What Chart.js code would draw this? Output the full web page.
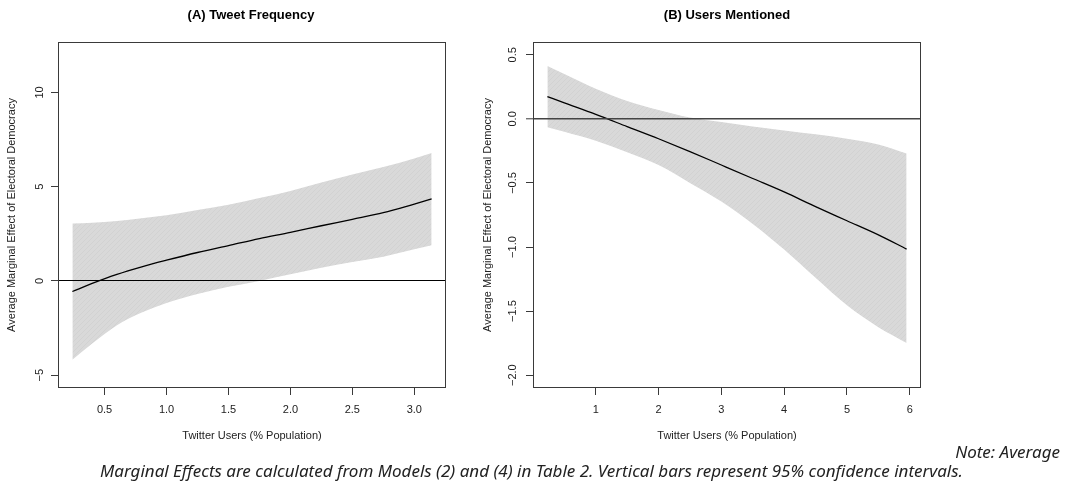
<!DOCTYPE html>
<html>
<head>
<meta charset="utf-8">
<script src="https://cdn.jsdelivr.net/npm/chart.js@4.4.1/dist/chart.umd.min.js"></script>
<style>
body { margin: 0; width: 1068px; height: 488px; background: #fff; position: relative; overflow: hidden; }
canvas { position: absolute; top: 0; }
#left { left: 0; }
#right { left: 470px; }
.note { position: absolute; font-family: 'Noto Sans', sans-serif; font-style: italic; font-size: 17px; line-height: 20px; color: #222; white-space: nowrap; }
#note1 { right: 8px; top: 442px; }
#note2 { left: 0; width: 1063px; text-align: center; top: 461px; }
</style>
</head>
<body>
<canvas id="left" width="502" height="445"></canvas>
<canvas id="right" width="514" height="445"></canvas>
<div class="note" id="note1">Note: Average</div>
<div class="note" id="note2">Marginal Effects are calculated from Models (2) and (4) in Table 2. Vertical bars represent 95% confidence intervals.</div>
<script>
// (A) Tweet Frequency
const tweetX     = [0.24, 0.4, 0.6, 0.8, 1.0, 1.25, 1.5, 1.75, 2.0, 2.25, 2.5, 2.75, 3.0, 3.14];
const tweetFit   = [-0.56, -0.13, 0.35, 0.75, 1.1, 1.51, 1.88, 2.25, 2.58, 2.93, 3.27, 3.62, 4.08, 4.35];
const tweetUpper = [3.05, 3.09, 3.18, 3.33, 3.49, 3.76, 4.04, 4.4, 4.78, 5.23, 5.65, 6.05, 6.5, 6.79];
const tweetLower = [-4.18, -3.32, -2.35, -1.68, -1.17, -0.69, -0.31, 0.0, 0.35, 0.7, 1.0, 1.29, 1.68, 1.9];
const tweetXTicks  = [0.5, 1.0, 1.5, 2.0, 2.5, 3.0];
const tweetXLabels = ['0.5', '1.0', '1.5', '2.0', '2.5', '3.0'];
const tweetYTicks  = [-5, 0, 5, 10];
const tweetYLabels = ['\u22125', '0', '5', '10'];

// (B) Users Mentioned
const mentionX     = [0.23, 0.5, 1.0, 1.5, 2.0, 2.5, 3.0, 3.5, 4.0, 4.5, 5.0, 5.5, 5.95];
const mentionFit   = [0.174, 0.125, 0.035, -0.06, -0.155, -0.255, -0.36, -0.465, -0.57, -0.685, -0.795, -0.905, -1.016];
const mentionUpper = [0.413, 0.35, 0.235, 0.14, 0.07, 0.01, -0.025, -0.06, -0.09, -0.12, -0.155, -0.2, -0.27];
const mentionLower = [-0.065, -0.1, -0.17, -0.26, -0.36, -0.5, -0.645, -0.82, -1.02, -1.24, -1.455, -1.625, -1.748];
const mentionXTicks  = [1, 2, 3, 4, 5, 6];
const mentionXLabels = ['1', '2', '3', '4', '5', '6'];
const mentionYTicks  = [-2.0, -1.5, -1.0, -0.5, 0.0, 0.5];
const mentionYLabels = ['\u22122.0', '\u22121.5', '\u22121.0', '\u22120.5', '0.0', '0.5'];

Chart.defaults.font.family = "'Liberation Sans', Arial, sans-serif";
Chart.defaults.color = '#222';

function pts(xs, ys) {
    return xs.map((x, i) => ({ x: x, y: ys[i] }));
}

function bandPattern() {
    let c = document.createElement('canvas');
    c.width = 5;
    c.height = 5;
    let g = c.getContext('2d');
    g.fillStyle = '#d9d9d9';
    g.fillRect(0, 0, 5, 5);
    g.strokeStyle = '#d2d2d2';
    g.lineWidth = 1;
    g.beginPath();
    g.moveTo(-1, 6);
    g.lineTo(6, -1);
    g.stroke();
    return g.createPattern(c, 'repeat');
}

// box round the plot area (R's bty = "o")
const frame = {
    id: 'frame',
    afterDraw(chart) {
        const a = chart.chartArea;
        const ctx = chart.ctx;
        ctx.save();
        ctx.strokeStyle = '#3a3a3a';
        ctx.lineWidth = 1;
        ctx.strokeRect(Math.round(a.left) + 0.5, Math.round(a.top) + 0.5,
            Math.round(a.right - a.left) - 1, Math.round(a.bottom - a.top) - 1);
        ctx.restore();
    }
};

function panel(id, p) {
    const ctx = document.getElementById(id).getContext('2d');
    return new Chart(ctx, {
        type: 'line',
        data: {
            datasets: [{
                data: pts(p.x, p.fit),
                borderColor: '#000',
                borderWidth: 1.3,
                pointRadius: 0,
                fill: false,
                cubicInterpolationMode: 'monotone'
            }, {
                data: pts(p.x, p.upper),
                borderWidth: 0,
                pointRadius: 0,
                fill: '+1',
                backgroundColor: bandPattern(),
                cubicInterpolationMode: 'monotone'
            }, {
                data: pts(p.x, p.lower),
                borderWidth: 0,
                pointRadius: 0,
                fill: false,
                cubicInterpolationMode: 'monotone'
            }]
        },
        options: {
            responsive: false,
            animation: false,
            layout: { padding: 0 },
            plugins: {
                legend: { display: false },
                tooltip: { enabled: false },
                title: {
                    display: true,
                    text: p.title,
                    color: '#000',
                    font: { size: 13, weight: 'bold' },
                    padding: { top: 7.5, bottom: 18.9 }
                }
            },
            scales: {
                x: {
                    type: 'linear',
                    position: 'bottom',
                    min: p.xMin,
                    max: p.xMax,
                    afterBuildTicks: s => { s.ticks = p.xTicks.map(v => ({ value: v })); },
                    afterFit: s => { s.height = 57; },
                    ticks: {
                        callback: v => p.xLabels[p.xTicks.indexOf(v)],
                        font: { size: 11 },
                        padding: 8,
                        maxRotation: 0,
                        autoSkip: false
                    },
                    grid: { drawOnChartArea: false, tickLength: 7, color: '#3a3a3a' },
                    border: { display: false },
                    title: {
                        display: true,
                        text: 'Twitter Users (% Population)',
                        font: { size: 11 },
                        padding: { top: 0, bottom: 2.4 }
                    }
                },
                y: {
                    type: 'linear',
                    position: 'left',
                    min: p.yMin,
                    max: p.yMax,
                    afterBuildTicks: s => { s.ticks = p.yTicks.map(v => ({ value: v })); },
                    afterFit: s => { s.width = p.yWidth; },
                    ticks: {
                        callback: v => p.yLabels[p.yTicks.indexOf(v)],
                        font: { size: 11 },
                        minRotation: 90,
                        maxRotation: 90,
                        crossAlign: 'center',
                        padding: p.yTickPad,
                        autoSkip: false
                    },
                    grid: {
                        z: 1,
                        drawOnChartArea: true,
                        tickLength: 7,
                        color: c => (c.tick && c.tick.value === 0) ? p.zeroColor : 'rgba(0,0,0,0)',
                        lineWidth: c => (c.tick && c.tick.value === 0) ? p.zeroWidth : 1,
                        tickColor: '#3a3a3a',
                        tickWidth: 1
                    },
                    border: { display: false },
                    title: {
                        display: true,
                        text: 'Average Marginal Effect of Electoral Democracy',
                        font: { size: 11 },
                        padding: { top: p.yTitlePad, bottom: 0 }
                    }
                },
                // empty right-hand margin so the title centres over the plot
                pad: {
                    type: 'linear',
                    position: 'right',
                    display: true,
                    ticks: { display: false },
                    grid: { display: false },
                    border: { display: false },
                    afterFit: s => { s.width = p.padRight; }
                }
            }
        },
        plugins: [frame]
    });
}

panel('left', {
    title: '(A) Tweet Frequency',
    x: tweetX, fit: tweetFit, upper: tweetUpper, lower: tweetLower,
    xTicks: tweetXTicks, xLabels: tweetXLabels,
    yTicks: tweetYTicks, yLabels: tweetYLabels,
    xMin: 0.124, xMax: 3.256, yMin: -5.68, yMax: 12.68,
    yWidth: 58, padRight: 56, yTickPad: 5, yTitlePad: 5.4,
    zeroColor: '#000', zeroWidth: 1
});

panel('right', {
    title: '(B) Users Mentioned',
    x: mentionX, fit: mentionFit, upper: mentionUpper, lower: mentionLower,
    xTicks: mentionXTicks, xLabels: mentionXLabels,
    yTicks: mentionYTicks, yLabels: mentionYLabels,
    xMin: 0.001, xMax: 6.179, yMin: -2.1, yMax: 0.6,
    yWidth: 63, padRight: 63, yTickPad: 2, yTitlePad: 11,
    zeroColor: '#444', zeroWidth: 1.6
});
</script>
</body>
</html>
